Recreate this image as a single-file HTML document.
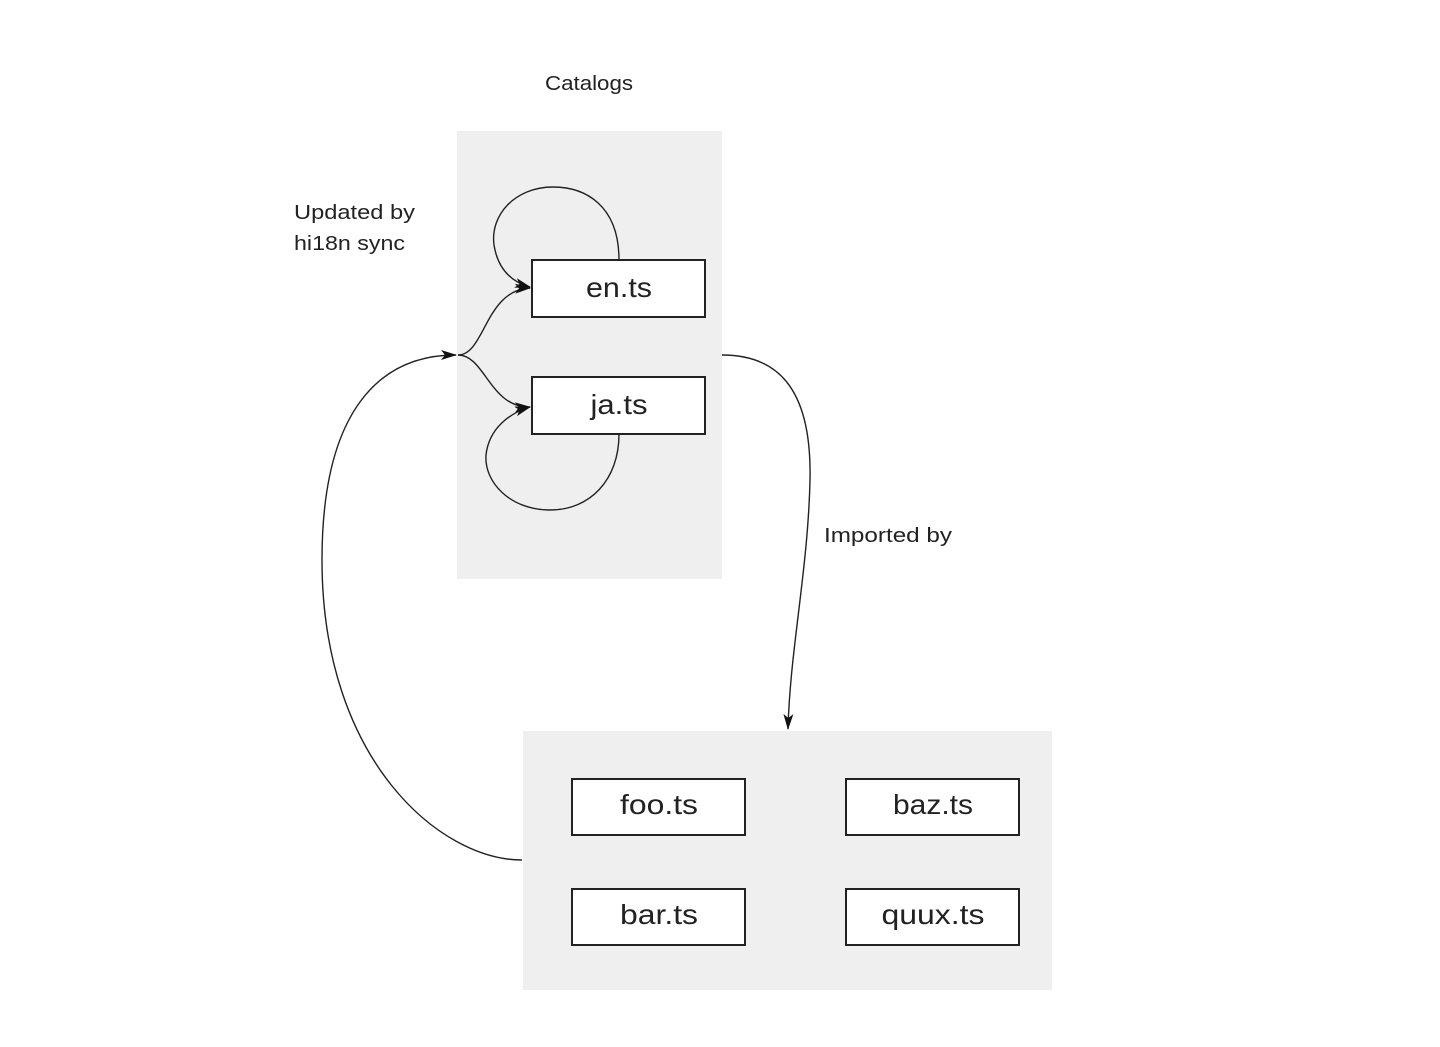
<!DOCTYPE html>
<html><head><meta charset="utf-8"><style>
html,body{margin:0;padding:0;background:#fff;}
svg{display:block;}
text{font-family:"Liberation Sans",sans-serif;fill:#222;}
</style></head><body>
<svg width="1440" height="1047" viewBox="0 0 1440 1047" xmlns="http://www.w3.org/2000/svg">
<defs>
<marker id="a" markerWidth="16" markerHeight="10" refX="15" refY="5" orient="auto" markerUnits="userSpaceOnUse">
<path d="M0,0 L16,5 L0,10 L4,5 Z" fill="#111"/>
</marker>
</defs>
<rect x="457" y="131" width="265" height="448" fill="#efefef"/>
<rect x="523" y="731" width="529" height="259" fill="#efefef"/>
<text x="545" y="90" font-size="20" textLength="88" lengthAdjust="spacingAndGlyphs">Catalogs</text>
<text x="294" y="219" font-size="20" textLength="121" lengthAdjust="spacingAndGlyphs">Updated by</text>
<text x="294" y="250" font-size="20" textLength="111" lengthAdjust="spacingAndGlyphs">hi18n sync</text>
<text x="824" y="542" font-size="20" textLength="128" lengthAdjust="spacingAndGlyphs">Imported by</text>
<g fill="#fff" stroke="#222" stroke-width="2">
<rect x="532" y="260" width="173" height="57"/>
<rect x="532" y="377" width="173" height="57"/>
<rect x="572" y="779" width="173" height="56"/>
<rect x="846" y="779" width="173" height="56"/>
<rect x="572" y="889" width="173" height="56"/>
<rect x="846" y="889" width="173" height="56"/>
</g>
<g font-size="28" text-anchor="middle">
<text x="619" y="297" textLength="66" lengthAdjust="spacingAndGlyphs">en.ts</text>
<text x="619" y="414" textLength="57" lengthAdjust="spacingAndGlyphs">ja.ts</text>
<text x="659" y="814" textLength="78" lengthAdjust="spacingAndGlyphs">foo.ts</text>
<text x="933" y="814" textLength="80" lengthAdjust="spacingAndGlyphs">baz.ts</text>
<text x="659" y="924" textLength="78" lengthAdjust="spacingAndGlyphs">bar.ts</text>
<text x="933" y="924" textLength="103" lengthAdjust="spacingAndGlyphs">quux.ts</text>
</g>
<g fill="none" stroke="#222" stroke-width="1.4">
<path d="M619,260 C619,205 585,187 553,187 C515,187 490,215 494,245 C498,270 512,282 530,287" marker-end="url(#a)"/>
<path d="M619,434 C619,480 590,510 550,510 C510,510 484,482 486,455 C489,428 510,413 530,407" marker-end="url(#a)"/>
<path d="M458,355 C485,355 485,290 530,288" marker-end="url(#a)"/>
<path d="M458,355 C485,355 490,408 530,407" marker-end="url(#a)"/>
<path d="M522,860 C440,860 322,760 322,560 C322,410 380,355 456,355" marker-end="url(#a)"/>
<path d="M722,355 C775,355 812,385 810,480 C808,570 790,650 788,729" marker-end="url(#a)"/>
</g>
</svg>
</body></html>
